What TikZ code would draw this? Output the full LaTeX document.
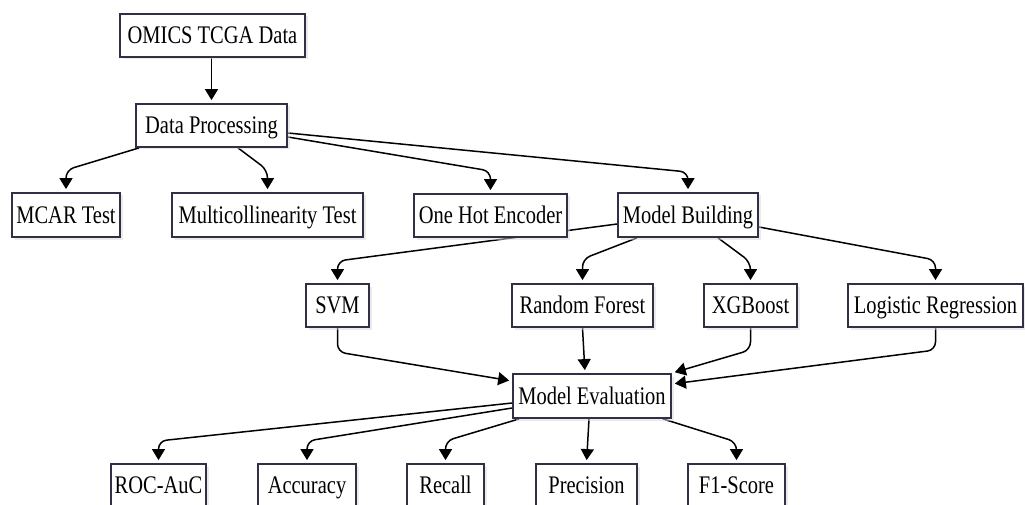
\documentclass[tikz,border=0pt]{standalone}
\usepackage{fontspec}
\setmainfont[FakeStretch=0.81]{Liberation Serif}
\usetikzlibrary{arrows.meta,shadows,backgrounds}
\definecolor{boxline}{RGB}{48,48,68}
\tikzset{
  box/.style={draw=boxline, line width=1.8pt, fill=white, rectangle, inner sep=0pt,
    minimum height=43pt, font=\fontsize{25.3}{28}\selectfont,
    text height=16.7pt, text depth=0pt,
    drop shadow={shadow xshift=2.5pt, shadow yshift=-2.5pt, fill=black!15}},
  conn/.style={line width=1.5pt, black, rounded corners=8pt,
    -{Triangle[width=13pt,length=11pt]}, shorten >=3pt}
}
\begin{document}
\begin{tikzpicture}[x=1pt,y=-1pt]
\useasboundingbox (0,0) rectangle (1025,505);
\clip (0,0) rectangle (1025,505);
% nodes
\node[box, minimum width=185pt] (omics) at (212.5,35.5) {OMICS TCGA Data};
\node[box, minimum width=151pt] (dp) at (211.5,125.5) {Data Processing};
\node[box, minimum width=108pt, minimum height=44pt] (mcar) at (66,215) {MCAR Test};
\node[box, minimum width=191pt, minimum height=44pt] (multi) at (267.5,215) {Multicollinearity Test};
\node[box, minimum width=153pt] (onehot) at (490.5,215.5) {One Hot Encoder};
\node[box, minimum width=140pt, minimum height=44pt] (mb) at (688,215) {Model Building};
\node[box, minimum width=63pt] (svm) at (337.5,305.5) {SVM};
\node[box, minimum width=141pt] (rf) at (582.5,305.5) {Random Forest};
\node[box, minimum width=93pt] (xgb) at (750.5,305.5) {XGBoost};
\node[box, minimum width=175pt] (lr) at (935.5,305.5) {Logistic Regression};
\node[box, minimum width=158pt, minimum height=44pt] (me) at (592,396) {Model Evaluation};
\node[box, minimum width=95pt] (roc) at (158.5,485.5) {ROC-AuC};
\node[box, minimum width=98pt] (acc) at (307,485.5) {Accuracy};
\node[box, minimum width=77pt] (rec) at (445.5,485.5) {Recall};
\node[box, minimum width=101pt] (prec) at (586.5,485.5) {Precision};
\node[box, minimum width=97pt] (f1) at (736.5,485.5) {F1-Score};
% connectors
\begin{scope}[on background layer]
\fill[white] (0,0) rectangle (1025,505);
\draw[conn] (omics.south -| dp.north) -- (dp.north);
\draw[conn] ([xshift=4pt]dp.south west) -- (66,170) -- (mcar.north);
\draw[conn] ([xshift=26.5pt]dp.south) -- (267.5,170) -- (multi.north);
\draw[conn] ([yshift=-11.5pt]dp.east) -- (490.5,171) -- (onehot.north);
\draw[conn] ([yshift=-7.5pt]dp.east) -- (688,172) -- (mb.north);
\draw[conn] ([yshift=-9pt]mb.west) -- (337.5,261) -- (svm.north);
\draw[conn] ([xshift=-51pt]mb.south) -- (582.5,259) -- (rf.north);
\draw[conn] ([xshift=30pt]mb.south) -- (750.5,262) -- (xgb.north);
\draw[conn] ([yshift=-12pt]mb.east) -- (935.5,260) -- (lr.north);
\draw[conn] (svm.south) -- (337.5,352) -- ([yshift=15pt]me.west);
\draw[conn] (rf.south) -- ([xshift=-7pt]me.north);
\draw[conn] (xgb.south) -- (750.5,350) -- (me.north east);
\draw[conn] (lr.south) -- (935.5,350) -- ([yshift=12pt]me.east);
\draw[conn] ([yshift=-7pt]me.west) -- (158.5,441) -- (roc.north);
\draw[conn] ([yshift=-12pt]me.west) -- (307,441) -- (acc.north);
\draw[conn] ([xshift=7pt]me.south west) -- (445.5,441) -- (rec.north);
\draw[conn] ([xshift=-3pt]me.south) -- (prec.north);
\draw[conn] ([xshift=-9pt]me.south east) -- (736.5,442) -- (f1.north);
\end{scope}
\end{tikzpicture}
\end{document}
